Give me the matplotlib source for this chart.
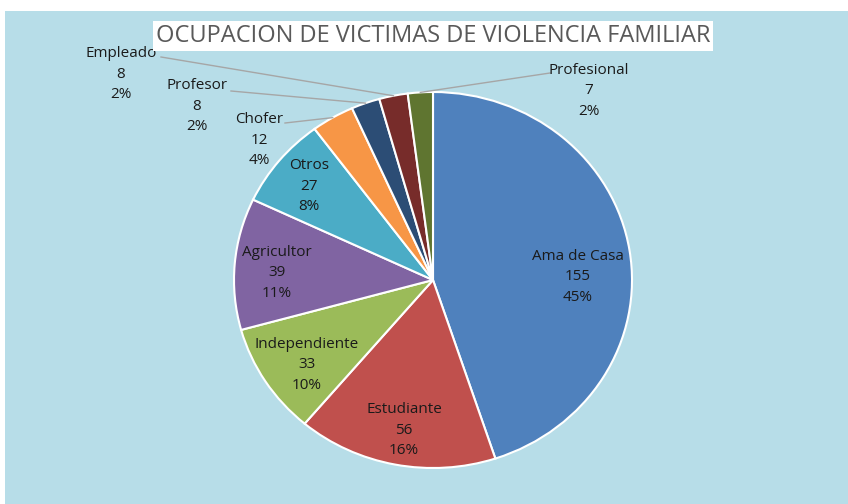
import numpy as np
import matplotlib.pyplot as plt

categorias = ['Ama de Casa', 'Estudiante', 'Independiente', 'Agricultor', 'Otros',
              'Chofer', 'Profesor', 'Empleado', 'Profesional']
casos = [155, 56, 33, 39, 27, 12, 8, 8, 7]
porcentajes = ['45%', '16%', '10%', '11%', '8%', '4%', '2%', '2%', '2%']
colores = ['#4F81BD', '#C0504D', '#9BBB59', '#8064A2', '#4BACC6',
           '#F79646', '#2C4D75', '#772C2A', '#5F7530']
titulo = 'OCUPACION DE VICTIMAS DE VIOLENCIA FAMILIAR'

# centro de cada etiqueta en pixeles de la figura
pos_etiqueta = {'Ama de Casa': (578, 277), 'Estudiante': (404, 430),
                'Independiente': (307, 365), 'Agricultor': (277, 273),
                'Otros': (309, 186), 'Chofer': (259, 140), 'Profesor': (197, 106),
                'Empleado': (121, 74), 'Profesional': (589, 91)}
# extremo de la linea guia junto al texto (solo etiquetas de afuera)
guia = {'Chofer': (285, 123), 'Profesor': (231, 91),
        'Empleado': (161, 57), 'Profesional': (550, 73)}

plt.rcParams['font.family'] = ['Open Sans', 'DejaVu Sans']

W, H = 848, 504
fig = plt.figure(figsize=(W / 100, H / 100), dpi=100)
fig.patch.set_facecolor('white')
fondo = fig.add_axes([5 / W, 0, 1 - 5 / W, 1 - 11 / H])
fondo.set_facecolor('#B7DDE8')
fondo.set_xticks([])
fondo.set_yticks([])
for s in fondo.spines.values():
    s.set_visible(False)

cx, cy, rx, ry = 433, 280, 199, 188
ax = fig.add_axes([(cx - rx) / W, (H - cy - ry) / H, 2 * rx / W, 2 * ry / H])
ax.set_facecolor('none')
wedges, _ = ax.pie(casos, colors=colores, startangle=90, counterclock=False,
                   wedgeprops=dict(edgecolor='white', linewidth=1.5))
ax.set_aspect('auto')
ax.set_xlim(-1, 1)
ax.set_ylim(-1, 1)


def px2data(px, py):
    return (px - cx) / rx, (cy - py) / ry


for w, cat, n, pct in zip(wedges, categorias, casos, porcentajes):
    texto = '%s\n%d\n%s' % (cat, n, pct)
    tx, ty = px2data(*pos_etiqueta[cat])
    ax.text(tx, ty, texto, ha='center', va='center', fontsize=11,
            color='#1a1a1a', linespacing=1.48, clip_on=False)
    if cat in guia:
        ang = np.deg2rad((w.theta1 + w.theta2) / 2)
        lxd, lyd = px2data(*guia[cat])
        ax.plot([lxd, np.cos(ang)], [lyd, np.sin(ang)], color='#A6A6A6',
                lw=1, clip_on=False)

fig.text(433 / W, 1 - 36 / H, titulo, ha='center', va='center', fontsize=17,
         color='#595959',
         bbox=dict(boxstyle='square,pad=0.12', facecolor='white', edgecolor='none'))

fig.savefig('out.png', dpi=100, facecolor=fig.get_facecolor())
